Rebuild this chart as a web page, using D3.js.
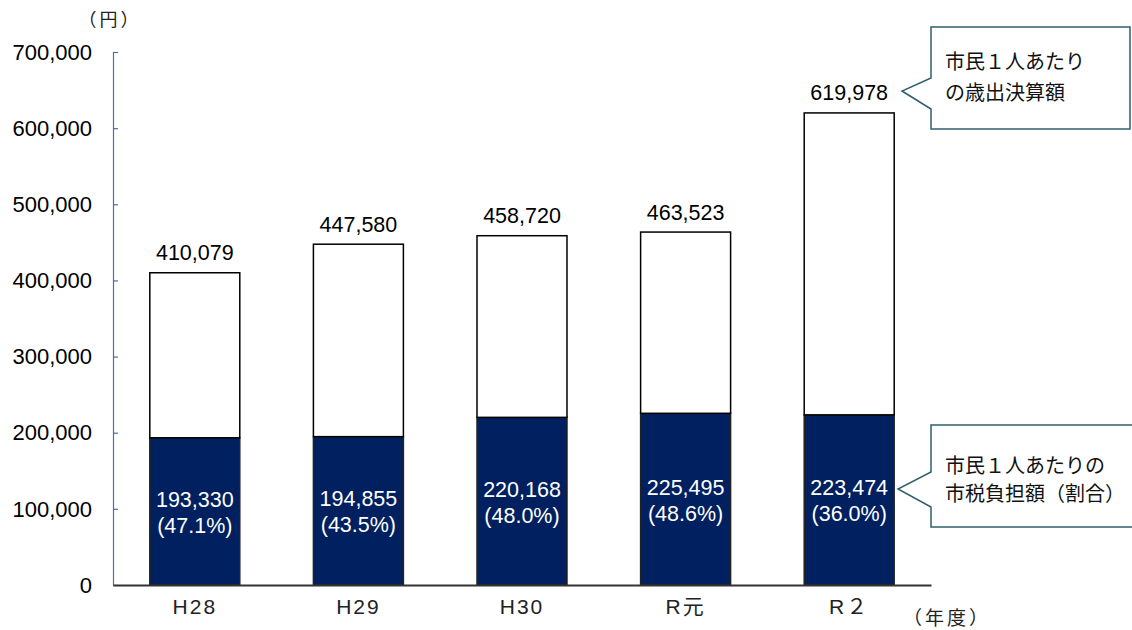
<!DOCTYPE html>
<html>
<head>
<meta charset="utf-8">
<script src="https://cdn.jsdelivr.net/npm/d3@7"></script>
<style>
  html, body { margin: 0; padding: 0; background: #fff; }
  svg { display: block; }
  text { font-family: "Liberation Sans", Arial, "Noto Sans CJK JP", sans-serif; }
  .jp { font-family: "Noto Sans CJK JP", "Liberation Sans", sans-serif; }
</style>
</head>
<body>
<svg id="chart" width="1132" height="630"></svg>
<script>
// 年度
const years = ["H28", "H29", "H30", "R元", "R２"];
// 市民1人あたりの歳出決算額（円）
const expenditure = [410079, 447580, 458720, 463523, 619978];
// 市民1人あたりの市税負担額（円）
const taxBurden = [193330, 194855, 220168, 225495, 223474];
// 歳出決算額に占める市税負担額の割合
const shareLabels = ["47.1%", "43.5%", "48.0%", "48.6%", "36.0%"];
// 縦軸目盛
const yTicks = [0, 100000, 200000, 300000, 400000, 500000, 600000, 700000];

const svg = d3.select("#chart");
const plot = { left: 113, right: 931, top: 52, bottom: 585 };

const x = d3.scaleBand()
  .domain(years)
  .range([plot.left, plot.right])
  .paddingInner(0.45)
  .paddingOuter(0.225);

const y = d3.scaleLinear()
  .domain([0, 700000])
  .range([plot.bottom, plot.top]);

const fmt = d3.format(",");

const rows = years.map((yr, i) => ({
  year: yr,
  total: expenditure[i],
  tax: taxBurden[i],
  rest: expenditure[i] - taxBurden[i],
  share: shareLabels[i]
}));

const stacked = d3.stack().keys(["tax", "rest"])(rows);
const fills = { tax: "#002060", rest: "#ffffff" };
const strokes = { tax: "#222", rest: "#000" };

// 積み上げ棒
svg.append("g").selectAll("g")
  .data(stacked)
  .join("g")
  .attr("fill", s => fills[s.key])
  .attr("stroke", s => strokes[s.key])
  .selectAll("rect")
  .data(s => s)
  .join("rect")
  .attr("x", d => x(d.data.year))
  .attr("width", x.bandwidth())
  .attr("y", d => y(d[1]))
  .attr("height", d => y(d[0]) - y(d[1]))
  .attr("stroke-width", 1.5);

// 縦軸
const yAxis = d3.axisRight(y)
  .tickValues(yTicks)
  .tickSize(5)
  .tickFormat("");
const gy = svg.append("g")
  .attr("transform", `translate(${plot.left},0)`)
  .call(yAxis);
gy.select(".domain").attr("stroke", "#4f6fa0").attr("stroke-width", 1.2);
gy.selectAll(".tick line").attr("stroke", "#4f6fa0").attr("stroke-width", 1.2);

svg.append("g").selectAll("text")
  .data(yTicks)
  .join("text")
  .attr("x", 92)
  .attr("y", d => y(d))
  .attr("dy", "0.35em")
  .attr("text-anchor", "end")
  .attr("font-size", 22)
  .attr("fill", "#000")
  .text(d => fmt(d));

// 横軸
const xAxis = d3.axisBottom(x).tickSize(0).tickFormat("");
const gx = svg.append("g")
  .attr("transform", `translate(0,${plot.bottom})`)
  .call(xAxis);
gx.select(".domain").attr("stroke", "#333").attr("stroke-width", 2);

svg.append("g").selectAll("text")
  .data(years)
  .join("text")
  .attr("x", d => x(d) + x.bandwidth() / 2)
  .attr("y", 607)
  .attr("dy", "0.35em")
  .attr("text-anchor", "middle")
  .attr("font-size", 21)
  .attr("letter-spacing", 2)
  .attr("fill", "#222")
  .text(d => d);

// 歳出決算額ラベル
svg.append("g").selectAll("text")
  .data(rows)
  .join("text")
  .attr("x", d => x(d.year) + x.bandwidth() / 2)
  .attr("y", d => y(d.total) - 20)
  .attr("dy", "0.35em")
  .attr("text-anchor", "middle")
  .attr("font-size", 21.5)
  .attr("fill", "#000")
  .text(d => fmt(d.total));

// 市税負担額と割合
const inner = svg.append("g").selectAll("text")
  .data(rows)
  .join("text")
  .attr("x", d => x(d.year) + x.bandwidth() / 2)
  .attr("y", d => y(d.tax / 2) - 12)
  .attr("text-anchor", "middle")
  .attr("font-size", 21.5)
  .attr("fill", "#fff");
inner.append("tspan")
  .attr("x", d => x(d.year) + x.bandwidth() / 2)
  .attr("dy", "0.35em")
  .text(d => fmt(d.tax));
inner.append("tspan")
  .attr("x", d => x(d.year) + x.bandwidth() / 2)
  .attr("dy", 26)
  .text(d => `(${d.share})`);

// 単位
svg.append("text")
  .attr("class", "jp")
  .attr("x", 110)
  .attr("y", 20)
  .attr("dy", "0.35em")
  .attr("text-anchor", "middle")
  .attr("font-size", 18)
  .attr("letter-spacing", 3)
  .attr("fill", "#222")
  .text("（円）");

svg.append("text")
  .attr("class", "jp")
  .attr("x", 947)
  .attr("y", 618)
  .attr("dy", "0.35em")
  .attr("text-anchor", "middle")
  .attr("font-size", 19)
  .attr("letter-spacing", 3)
  .attr("fill", "#222")
  .text("（年度）");

// 吹き出し
function callout(box, tip, notch, lines, lineY) {
  const [x0, y0, x1, y1] = box;
  const path = d3.path();
  path.moveTo(x0, y0);
  path.lineTo(x1, y0);
  path.lineTo(x1, y1);
  path.lineTo(x0, y1);
  path.lineTo(x0, notch[1]);
  path.lineTo(tip[0], tip[1]);
  path.lineTo(x0, notch[0]);
  path.closePath();
  svg.append("path")
    .attr("d", path.toString())
    .attr("fill", "#fff")
    .attr("stroke", "#2f5f6f")
    .attr("stroke-width", 1.5);
  svg.append("g").selectAll("text")
    .data(lines)
    .join("text")
    .attr("class", "jp")
    .attr("x", x0 + 14)
    .attr("y", (d, i) => lineY[i])
    .attr("dy", "0.35em")
    .attr("font-size", 20)
    .attr("fill", "#111")
    .text(d => d);
}

callout([931, 27, 1130, 129], [902, 91], [78, 109],
  ["市民１人あたり", "の歳出決算額"], [62, 93]);

callout([931, 425, 1140, 527], [898, 489], [472, 507],
  ["市民１人あたりの", "市税負担額（割合）"], [466, 494]);
</script>
</body>
</html>
